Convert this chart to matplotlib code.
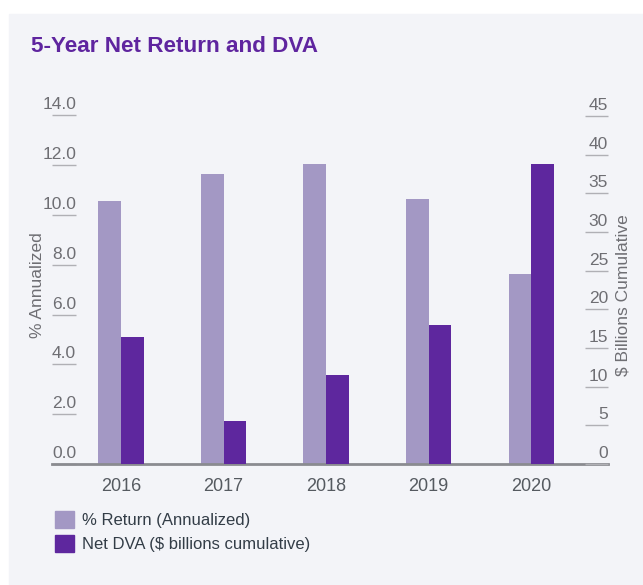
import numpy as np
import matplotlib.pyplot as plt
from matplotlib.patches import Rectangle, Patch
from matplotlib.transforms import ScaledTranslation

# =========================
# DATA
# =========================
years = ["2016", "2017", "2018", "2019", "2020"]
pct_return = [10.55, 11.65, 12.05, 10.65, 7.65]      # % annualized (left axis)
net_dva = [16.4, 5.6, 11.5, 18.0, 38.8]                # $ billions cumulative (right axis)
left_ticks = [0, 2, 4, 6, 8, 10, 12, 14]
right_ticks = [0, 5, 10, 15, 20, 25, 30, 35, 40, 45]

# =========================
# STYLE
# =========================
plt.rcParams['font.family'] = ['Liberation Sans', 'DejaVu Sans']
LIGHT = "#a398c4"
DARK = "#5e279e"
PANEL = "#f3f4f8"
TICK_GREY = "#6e6e73"
TEXT_DARK = "#333d47"

fig = plt.figure(figsize=(6.43, 5.85), dpi=100, facecolor="white")
fig.patches.append(Rectangle((9 / 643, 0), 1, (585 - 14) / 585,
                             transform=fig.transFigure, color=PANEL, zorder=-10))

ax = fig.add_axes([52 / 643, 121 / 585, 556 / 643, 351 / 585])
ax.set_facecolor("none")
ax2 = ax.twinx()
ax2.set_facecolor("none")

x = np.arange(len(years))
w = 0.22
ax.bar(x - w / 2, pct_return, width=w, color=LIGHT, zorder=2)
ax2.bar(x + w / 2, net_dva, width=w, color=DARK, zorder=2)

ax.set_xlim(-0.673, 4.75)
ax.set_ylim(0, 14.1)
ax2.set_ylim(0, 45.4)

for a in (ax, ax2):
    for s in a.spines.values():
        s.set_visible(False)
ax.spines["bottom"].set_visible(True)
ax.spines["bottom"].set_color("#8a8b90")
ax.spines["bottom"].set_linewidth(2)

ax.set_xticks(x)
ax.set_xticklabels(years)
ax.tick_params(axis="x", length=0, pad=10, labelsize=13, labelcolor="#555a60")

# left axis: short inside ticks with label sitting above
ax.set_yticks(left_ticks)
ax.set_yticklabels([f"{v:.1f}" for v in left_ticks])
ax.tick_params(axis="y", direction="in", length=17.3, width=1, color="#b0b0b5",
               pad=-17.3, labelsize=12.5, labelcolor=TICK_GREY)
up = ScaledTranslation(0, 12 / 100, fig.dpi_scale_trans)
for lbl in ax.get_yticklabels():
    lbl.set_transform(lbl.get_transform() + up)

# right axis
ax2.set_yticks(right_ticks)
ax2.set_yticklabels([str(v) for v in right_ticks])
ax2.tick_params(axis="y", direction="in", length=16.5, width=1, color="#b0b0b5",
                pad=0, labelsize=12.5, labelcolor=TICK_GREY)
for lbl in ax2.get_yticklabels():
    lbl.set_horizontalalignment("right")
    lbl.set_transform(lbl.get_transform() + up)

fig.text(37 / 643, 1 - 285 / 585, "% Annualized", rotation=90, ha="center", va="center",
         fontsize=12.5, color=TICK_GREY)
fig.text(623 / 643, 1 - 295 / 585, "$ Billions Cumulative", rotation=90, ha="center",
         va="center", fontsize=12.5, color=TICK_GREY)

# title
fig.text(31 / 643, 1 - 52 / 585, "5-Year Net Return and DVA", fontsize=16.2,
         fontweight="bold", color="#5f259f", ha="left", va="baseline")

# legend
handles = [Patch(color=LIGHT, label="% Return (Annualized)"),
           Patch(color=DARK, label="Net DVA ($ billions cumulative)")]
fig.legend(handles=handles, loc="upper left", bbox_to_anchor=(55 / 643, 1 - 511 / 585),
           frameon=False, fontsize=12, handlelength=1.15, handleheight=1.15,
           handletextpad=0.5, labelspacing=0.45, borderpad=0, borderaxespad=0,
           labelcolor=TEXT_DARK)

fig.savefig("out.png", dpi=100, facecolor="white")
